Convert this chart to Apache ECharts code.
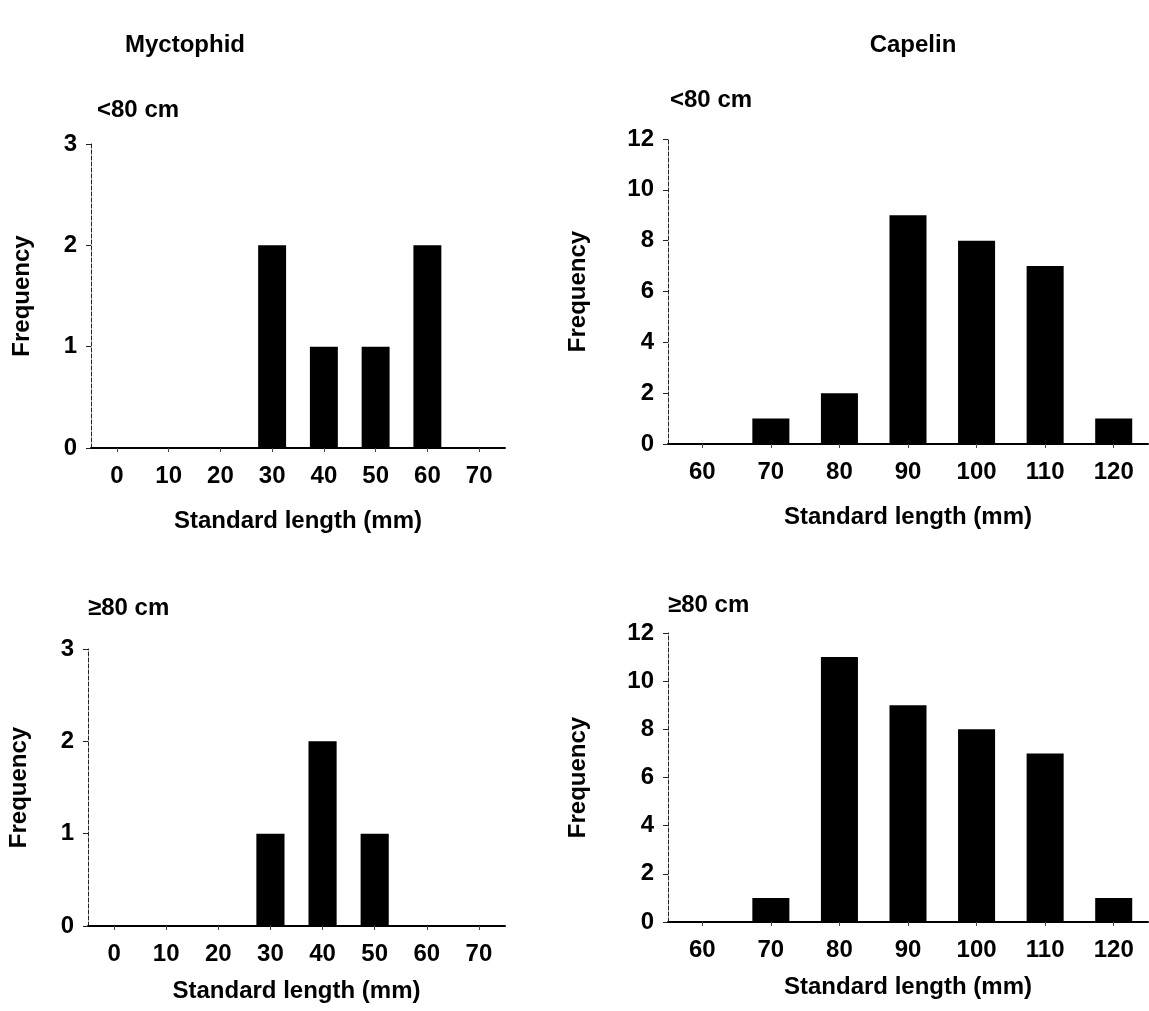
<!DOCTYPE html>
<html>
<head>
<meta charset="utf-8">
<script src="https://cdn.jsdelivr.net/npm/echarts@6/dist/echarts.min.js"></script>
<style>
html,body{margin:0;padding:0;background:#fff;}
#chart{width:1149px;height:1011px;}
</style>
</head>
<body>
<div id="chart"></div>
<script>
// Data
const myctCategories = ['0','10','20','30','40','50','60','70'];
const capCategories = ['60','70','80','90','100','110','120'];
const myctSmall = [0,0,0,2,1,1,2,0];   // <80 cm
const myctLarge = [0,0,0,1,2,1,0,0];   // >=80 cm
const capSmall = [0,1,2,9,8,7,1];      // <80 cm
const capLarge = [0,1,11,9,8,7,1];     // >=80 cm
const speciesTitles = ['Myctophid','Capelin'];
const groupLabels = ['<80 cm','≥80 cm'];
const xName = 'Standard length (mm)';
const yName = 'Frequency';

const FONT = '"Liberation Sans", Arial, sans-serif';
const chart = echarts.init(document.getElementById('chart'));

const grids = [
  {left:91, top:144, width:414, height:304},
  {left:668, top:139, width:480, height:305},
  {left:88, top:649, width:417, height:277},
  {left:668, top:633, width:480, height:289}
];
const cats = [myctCategories, capCategories, myctCategories, capCategories];
const vals = [myctSmall, capSmall, myctLarge, capLarge];
const ymax = [3,12,3,12];
const yint = [1,2,1,2];
const xGap = [61,61,53,53];
const yGap = [57,78,57,78];

const labelStyle = {fontFamily:FONT, fontWeight:'bold', fontSize:24, color:'#000'};

const option = {
  animation:false,
  backgroundColor:'#fff',
  grid: grids.map(g => Object.assign({containLabel:false}, g)),
  xAxis: cats.map((c,i) => ({
    type:'category', gridIndex:i, data:c,
    name:xName, nameLocation:'middle', nameGap:xGap[i],
    nameTextStyle:labelStyle,
    axisLine:{show:true, lineStyle:{color:'#000', width:2}},
    axisTick:{show:true, alignWithLabel:true, length:4, lineStyle:{color:'#444', width:1}},
    axisLabel:Object.assign({margin:16, interval:0}, labelStyle),
    splitLine:{show:false}
  })),
  yAxis: ymax.map((m,i) => ({
    type:'value', gridIndex:i, min:0, max:m, interval:yint[i],
    name:yName, nameLocation:'middle', nameGap:yGap[i],
    nameTextStyle:labelStyle,
    axisLine:{show:true, lineStyle:{color:'#222', width:1, type:'dashed'}},
    axisTick:{show:true, length:5, lineStyle:{color:'#222', width:1}},
    axisLabel:Object.assign({margin:14}, labelStyle),
    splitLine:{show:false}
  })),
  series: vals.map((v,i) => ({
    type:'bar', xAxisIndex:i, yAxisIndex:i, data:v,
    barCategoryGap:'46%',
    itemStyle:{color:'#000'}
  })),
  graphic: [
    {type:'text', x:185, y:45, style:{text:speciesTitles[0], font:'bold 24px '+FONT, fill:'#000', textAlign:'center', textVerticalAlign:'middle'}},
    {type:'text', x:913, y:45, style:{text:speciesTitles[1], font:'bold 24px '+FONT, fill:'#000', textAlign:'center', textVerticalAlign:'middle'}},
    {type:'text', x:97, y:110, style:{text:groupLabels[0], font:'bold 24px '+FONT, fill:'#000', textAlign:'left', textVerticalAlign:'middle'}},
    {type:'text', x:670, y:100, style:{text:groupLabels[0], font:'bold 24px '+FONT, fill:'#000', textAlign:'left', textVerticalAlign:'middle'}},
    {type:'text', x:88, y:608, style:{text:groupLabels[1], font:'bold 24px '+FONT, fill:'#000', textAlign:'left', textVerticalAlign:'middle'}},
    {type:'text', x:668, y:605, style:{text:groupLabels[1], font:'bold 24px '+FONT, fill:'#000', textAlign:'left', textVerticalAlign:'middle'}}
  ]
};
chart.setOption(option);
</script>
</body>
</html>
